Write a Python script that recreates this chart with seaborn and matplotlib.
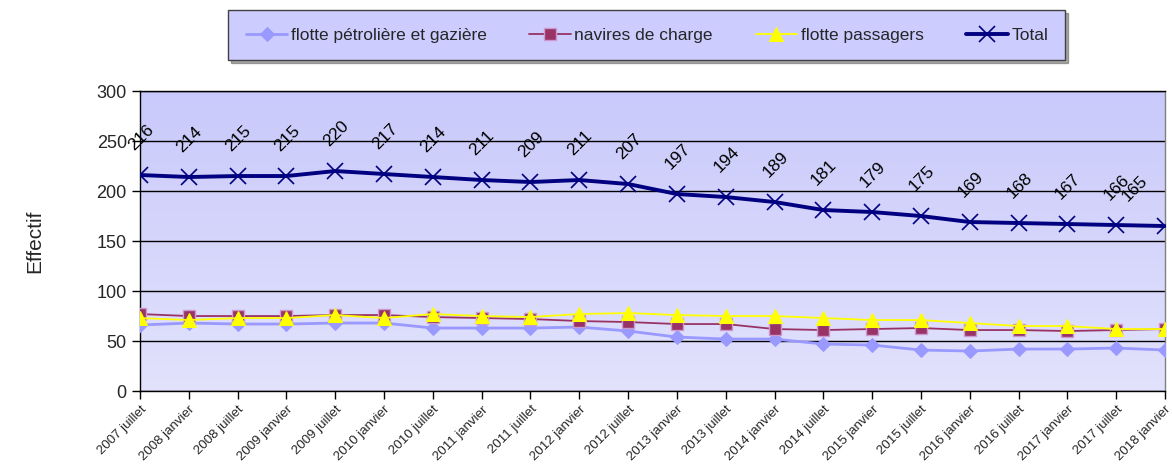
import numpy as np
import pandas as pd
import matplotlib
matplotlib.use("Agg")
import matplotlib.pyplot as plt
from matplotlib.colors import LinearSegmentedColormap
import seaborn as sns

# --- data ---
periodes = [
    "2007 juillet", "2008 janvier", "2008 juillet", "2009 janvier", "2009 juillet",
    "2010 janvier", "2010 juillet", "2011 janvier", "2011 juillet", "2012 janvier",
    "2012 juillet", "2013 janvier", "2013 juillet", "2014 janvier", "2014 juillet",
    "2015 janvier", "2015 juillet", "2016 janvier", "2016 juillet", "2017 janvier",
    "2017 juillet", "2018 janvier",
]
petrole_gaz = [66, 68, 67, 67, 68, 68, 63, 63, 63, 64, 60, 54, 52, 52, 47, 46, 41, 40, 42, 42, 43, 41]
navires_charge = [77, 75, 75, 75, 76, 76, 74, 73, 72, 70, 69, 67, 67, 62, 61, 62, 63, 61, 61, 60, 61, 62]
passagers = [73, 71, 73, 73, 76, 73, 77, 75, 74, 77, 78, 76, 75, 75, 73, 71, 71, 68, 65, 65, 62, 62]
total = [216, 214, 215, 215, 220, 217, 214, 211, 209, 211, 207, 197, 194, 189, 181, 179, 175, 169, 168, 167, 166, 165]

noms = ["flotte pétrolière et gazière", "navires de charge", "flotte passagers", "Total"]

sns.set_style("white")
plt.rcParams["font.family"] = ["Liberation Sans", "DejaVu Sans"]

fig = plt.figure(figsize=(11.72, 4.74), dpi=100)
ax = fig.add_axes([0.1195, 0.175, 0.8745, 0.633])

x = np.arange(len(periodes))

# gradient background of the plot area (darker at the top)
grad = np.linspace(0, 1, 256).reshape(-1, 1)
bg_cmap = LinearSegmentedColormap.from_list("bg", ["#e2e2fd", "#c9c9fb"])
ax.imshow(grad, cmap=bg_cmap, aspect="auto", origin="lower",
          extent=[0, 1, 0, 1], transform=ax.transAxes, zorder=0)

df = pd.DataFrame({"x": x, "p": petrole_gaz, "c": navires_charge, "f": passagers, "t": total})

sns.lineplot(data=df, x="x", y="p", ax=ax, color="#9999ff", lw=2, marker="D",
             markersize=7, markeredgecolor="#9999ff", label=noms[0], zorder=3)
sns.lineplot(data=df, x="x", y="c", ax=ax, color="#993366", lw=1.3, marker="s",
             markersize=8, markeredgecolor="#cc99cc", markeredgewidth=1, label=noms[1], zorder=4)
sns.lineplot(data=df, x="x", y="f", ax=ax, color="#ffff00", lw=1.3, marker="^",
             markersize=10, markeredgecolor="#ffff00", label=noms[2], zorder=5)
sns.lineplot(data=df, x="x", y="t", ax=ax, color="#000080", lw=2.8, marker="x",
             markersize=11, markeredgecolor="#000080", markeredgewidth=1.2,
             label=noms[3], zorder=6)

# data labels on the Total line
for i, v in enumerate(total):
    dx = -3 if i < len(total) - 1 else -25
    ax.annotate(str(v), (i, v), xytext=(dx, 16), textcoords="offset points",
                rotation=45, rotation_mode="anchor", ha="left", va="bottom",
                fontsize=12.5, color="black", zorder=7)

ax.set_xlim(0, len(periodes) - 1)
ax.set_ylim(0, 300)
ax.set_yticks(np.arange(0, 301, 50))
ax.set_xticks(x)
ax.set_xticklabels(periodes, rotation=45, ha="right", rotation_mode="anchor", fontsize=9.5)
ax.tick_params(axis="y", labelsize=13, length=6, width=1, color="black", direction="out", left=True)
ax.tick_params(axis="x", length=6, width=1, color="black", direction="out", bottom=True, pad=3)
ax.yaxis.grid(True, color="black", lw=1)
for gl in ax.get_ygridlines():
    gl.set_zorder(1)

ax.set_xlabel("")
ax.set_ylabel("Effectif", fontsize=15, labelpad=38)

for side in ["left", "bottom", "top"]:
    ax.spines[side].set_color("black")
    ax.spines[side].set_linewidth(1)
ax.spines["right"].set_color("#808080")
ax.spines["right"].set_linewidth(1)

handles, labels = ax.get_legend_handles_labels()
if ax.legend_:
    ax.legend_.remove()
leg = fig.legend(handles, labels, loc="center", bbox_to_anchor=(0.552, 0.926), ncol=4,
                 fontsize=12.5, frameon=True, fancybox=False,
                 shadow={"ox": 2, "oy": -2, "color": "#555555"},
                 handlelength=2.4, columnspacing=2.45, handletextpad=0.2,
                 borderpad=1.0)
leg.get_frame().set_facecolor("#ccccff")
leg.get_frame().set_edgecolor("#404040")
leg.get_frame().set_linewidth(1)
leg.get_frame().set_alpha(1)

fig.savefig("out.png", dpi=100)
